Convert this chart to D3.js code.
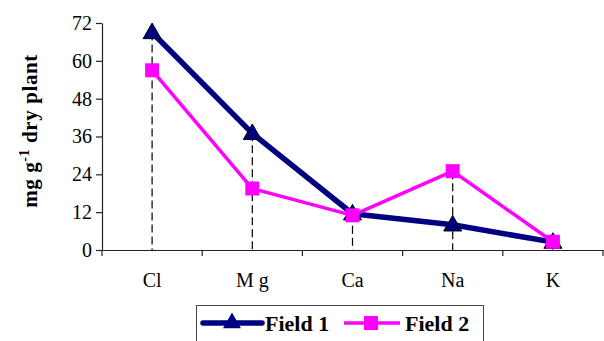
<!DOCTYPE html>
<html><head><meta charset="utf-8">
<script src="https://cdn.jsdelivr.net/npm/d3@7"></script>
<style>html,body{margin:0;padding:0;background:#fff;}svg{display:block;} svg text{font-family:"Liberation Serif","Times New Roman",serif !important;}</style>
</head><body>
<svg id="chart" width="604" height="341"></svg>
<script>
const categories = ["Cl", "Mg", "Ca", "Na", "K"];
const field1 = [69, 37, 11.5, 8, 2.5];
const field2 = [57, 19.5, 11, 25, 2.6];
const yTicks = [0, 12, 24, 36, 48, 60, 72];
const seriesNames = ["Field 1", "Field 2"];

const svg = d3.select("#chart");
const pL = 102, pR = 603, pT = 23, pB = 250;
const x = d3.scaleBand().domain(categories).range([pL, pR]);
const y = d3.scaleLinear().domain([0, 72]).range([pB, pT]);
const cx = c => x(c) + x.bandwidth() / 2;

// drop lines
const maxVals = categories.map((c, i) => Math.max(field1[i], field2[i]));
svg.append("g").selectAll("line").data(categories).join("line")
  .attr("x1", d => cx(d)).attr("x2", d => cx(d))
  .attr("y1", (d, i) => y(maxVals[i])).attr("y2", y(0))
  .attr("stroke", "#000").attr("stroke-width", 1.2).attr("stroke-dasharray", "8,4");

// y axis
const yAxis = svg.append("g").attr("transform", `translate(${pL},0)`)
  .call(d3.axisLeft(y).tickValues(yTicks).tickSize(6).tickSizeOuter(0).tickPadding(4));
yAxis.select(".domain").attr("stroke", "#222").attr("stroke-width", 1.2);
yAxis.selectAll(".tick line").attr("stroke", "#222").attr("stroke-width", 1.2);
yAxis.selectAll("text").style("font-size", "20px").attr("fill", "#000");

// x axis
const xAxis = svg.append("g").attr("transform", `translate(0,${pB})`)
  .call(d3.axisBottom(x).tickSize(0).tickPadding(23));
xAxis.select(".domain").attr("stroke", "#222").attr("stroke-width", 1.2);
xAxis.selectAll("text").style("font-size", "20px").attr("fill", "#000")
  .style("white-space", "pre").text(d => d === "Mg" ? "M g" : d);
const bounds = categories.map(c => x(c)).concat([pR]);
svg.append("g").selectAll("line").data(bounds).join("line")
  .attr("x1", d => d).attr("x2", d => d).attr("y1", pB).attr("y2", pB + 6)
  .attr("stroke", "#222").attr("stroke-width", 1.2);

// y title
svg.append("text")
  .attr("transform", `translate(37,131) rotate(-90)`)
  .attr("text-anchor", "middle").style("font-weight", "bold").style("font-size", "21px")
  .style("letter-spacing", "0.6px")
  .html('mg g<tspan dy="-8" style="font-size:14px">-1</tspan><tspan dy="8"> dry plant</tspan>');

const line = d3.line().x((d, i) => cx(categories[i])).y(d => y(d));
const tri = d3.symbol().type(d3.symbolTriangle).size(140);
const sq = d3.symbol().type(d3.symbolSquare).size(196);

// Field 1
svg.append("path").datum(field1).attr("d", line).attr("fill", "none")
  .attr("stroke", "#000080").attr("stroke-width", 5.5).attr("stroke-linejoin", "round");
svg.append("g").selectAll("path").data(field1).join("path")
  .attr("transform", (d, i) => `translate(${cx(categories[i])},${y(d) + 1})`)
  .attr("d", tri).attr("fill", "#000080").attr("stroke", "#000").attr("stroke-width", 1);

// Field 2
svg.append("path").datum(field2).attr("d", line).attr("fill", "none")
  .attr("stroke", "#ff00ff").attr("stroke-width", 3.5).attr("stroke-linejoin", "round");
svg.append("g").selectAll("path").data(field2).join("path")
  .attr("transform", (d, i) => `translate(${cx(categories[i])},${y(d)})`)
  .attr("d", sq).attr("fill", "#ff00ff");

// legend
const lg = svg.append("g");
lg.append("rect").attr("x", 196.5).attr("y", 305.5).attr("width", 287).attr("height", 50)
  .attr("fill", "#fff").attr("stroke", "#444").attr("stroke-width", 1);
const ly = 323;
lg.append("line").attr("x1", 203).attr("x2", 262).attr("y1", ly).attr("y2", ly)
  .attr("stroke", "#000080").attr("stroke-width", 5.5).attr("stroke-linecap", "round");
lg.append("path").attr("transform", `translate(232,${ly})`).attr("d", tri).attr("fill", "#000080");
lg.append("text").attr("x", 265).attr("y", ly + 8).style("font-weight", "bold")
  .style("font-size", "22px").text(seriesNames[0]);
lg.append("line").attr("x1", 344).attr("x2", 400).attr("y1", ly).attr("y2", ly)
  .attr("stroke", "#ff00ff").attr("stroke-width", 3.5);
lg.append("path").attr("transform", `translate(371,${ly})`).attr("d", sq).attr("fill", "#ff00ff");
lg.append("text").attr("x", 405).attr("y", ly + 8).style("font-weight", "bold")
  .style("font-size", "22px").text(seriesNames[1]);
</script>
</body></html>
